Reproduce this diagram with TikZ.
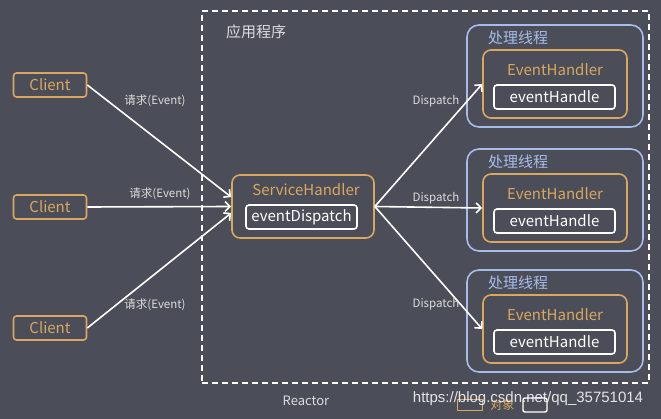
\documentclass[tikz,border=0pt]{standalone}
\usepackage{fontspec}
\setmainfont{Noto Sans CJK SC}
\newfontfamily\wmfont{Liberation Sans}
\usetikzlibrary{arrows.meta, positioning, calc}
\definecolor{cbg}{HTML}{4B4E58}
\definecolor{corange}{HTML}{D9A75F}
\definecolor{cblue}{HTML}{A8BCE8}
\definecolor{clabel}{HTML}{DCDCDC}
\tikzset{
  every picture/.style={line width=1.6pt},
  objbox/.style={draw=corange, rounded corners=#1, inner sep=0pt},
  objbox/.default=3pt,
  objtext/.style={text=corange, font=\fontsize{15}{17}\selectfont},
  funcbox/.style={draw=white, rounded corners=3pt, inner sep=0pt, text=white, font=\fontsize{15}{17}\selectfont, minimum height=24pt},
  threadbox/.style={draw=cblue, rounded corners=12pt, inner sep=0pt, minimum width=176pt, minimum height=102pt},
  arrow/.style={-{Straight Barb[length=5pt, width=10pt]}, draw=white, line width=1.6pt},
  elabel/.style={font=\fontsize{11.5}{13}\selectfont, text=clabel},
  title/.style={font=\fontsize{15}{17}\selectfont},
}

\begin{document}
\begin{tikzpicture}[x=1pt, y=-1pt]
  \fill[cbg] (0,0) rectangle (661,419);
  \useasboundingbox (0,0) rectangle (661,419);

  % the application (dashed frame)
  \node[draw=white, dash pattern=on 6pt off 4pt, line width=2pt, minimum width=447pt, minimum height=372pt, inner sep=0pt] (app) at (425.5,197) {};
  \node[title, text=clabel, anchor=west] (apptitle) at (222,32) {应用程序};

  % the three clients
  \foreach \i/\y in {1/85, 2/207, 3/328} {
    \node[objbox, objtext, minimum width=73pt, minimum height=24pt] (c\i) at (50,\y) {Client};
  }

  % service handler
  \node[objbox=8pt, minimum width=142pt, minimum height=63pt] (sh) at (303,206.5) {};
  \node[objtext] (shname) at (306,190) {ServiceHandler};
  \node[funcbox, minimum width=111pt] (disp) at (301.5,217) {eventDispatch};

  % the three worker threads
  \foreach \i/\y in {1/25, 2/149, 3/270} {
    \node[threadbox] (t\i) at (555,\y+51) {};
    \node[title, text=cblue, anchor=west] (tt\i) at (484,\y+13) {处理线程};
    \node[objbox=8pt, minimum width=144pt, minimum height=68pt] (h\i) at (555,\y+59) {};
    \node[objtext] (hn\i) at (555,\y+45) {EventHandler};
    \node[funcbox, minimum width=121pt] (f\i) at (554.5,\y+72) {eventHandle};
  }

  % requests and dispatches
  \draw[arrow] (c1.east) -- ([yshift=9.5pt]sh.west);
  \draw[arrow] (c2.east) -- (sh.west);
  \draw[arrow] (c3.east) -- ([yshift=-6.5pt]sh.west);
  \foreach \i in {1,2,3} { \draw[arrow] (sh.east) -- (h\i.west); }
  \node[elabel] (r1) at (155,101) {请求(Event)};
  \node[elabel] (r2) at (160,194) {请求(Event)};
  \node[elabel] (r3) at (155,305) {请求(Event)};
  \node[elabel] (d1) at (436,101) {Dispatch};
  \node[elabel] (d2) at (436,198) {Dispatch};
  \node[elabel] (d3) at (436,304) {Dispatch};

  % caption and legend
  \node[text=clabel, font=\fontsize{13}{15}\selectfont] (reactor) at (306,401) {Reactor};
  \node[draw=corange, line width=1.4pt, minimum width=25pt, minimum height=11pt, inner sep=0pt] (lobj) at (470,405) {};
  \node[text=corange, font=\fontsize{12}{14}\selectfont, right=3pt of lobj] (lobjtxt) {对象};
  \node[draw=white, line width=1.4pt, rounded corners=2pt, minimum width=24pt, minimum height=14pt, inner sep=0pt] (lfunc) at (535,405) {};
  \node[text=white, opacity=0.85, font=\wmfont\fontsize{15}{17}\selectfont] (wm) at (528,399) {https://blog.csdn.net/qq\_35751014};
\end{tikzpicture}
\end{document}
